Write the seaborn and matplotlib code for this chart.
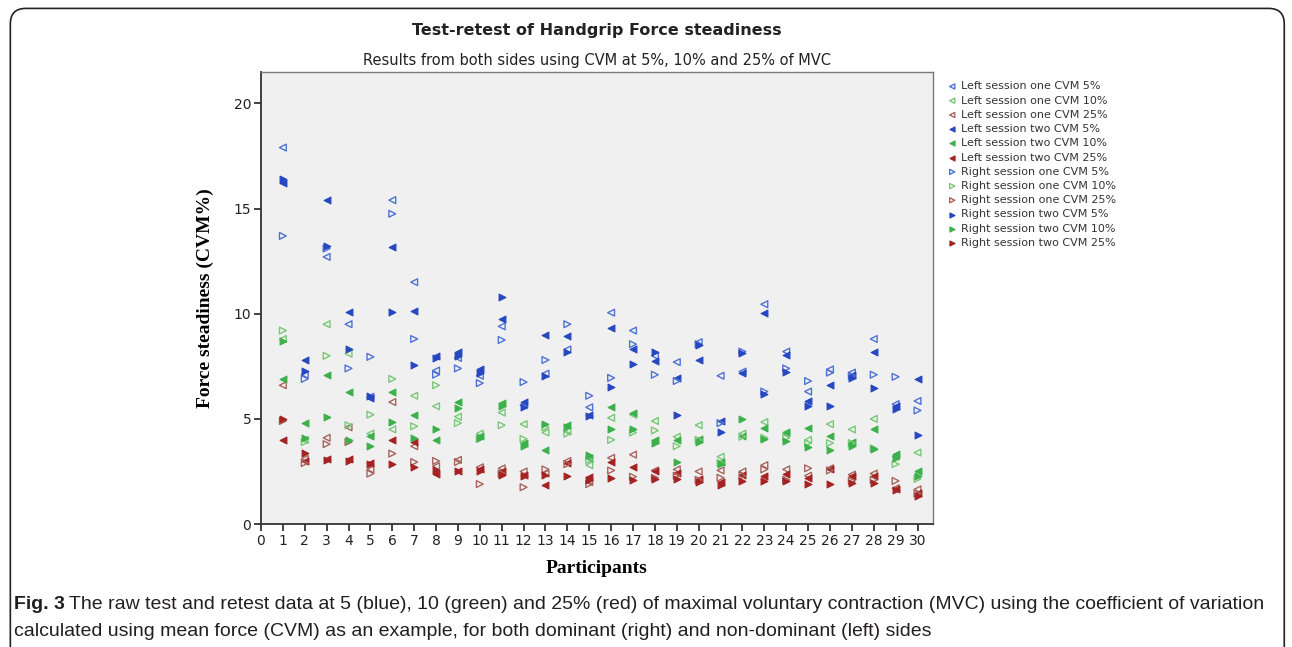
import numpy as np
import pandas as pd
import seaborn as sns
import matplotlib.pyplot as plt
from matplotlib.patches import FancyBboxPatch

# participants 1..30
participants = list(range(1, 31))

# CVM values (session one = open markers, session two = filled)
left_one_5 = [17.9, 7.1, 12.7, 9.5, 6.05, 15.4, 11.5, 7.3, 7.9, 7.05, 9.4, 5.65, 7.15, 8.3, 5.55,
              10.05, 9.2, 8.0, 7.7, 8.65, 7.05, 7.25, 10.45, 8.2, 6.3, 7.35, 7.2, 8.8, 5.7, 5.85]
left_one_10 = [8.8, 4.0, 9.5, 8.1, 4.3, 4.5, 6.1, 5.6, 5.1, 4.3, 5.3, 4.75, 4.35, 4.4, 2.8,
               5.05, 5.2, 4.9, 4.15, 4.7, 3.2, 4.3, 4.85, 4.3, 4.0, 4.75, 4.5, 5.0, 3.2, 3.4]
left_one_25 = [6.6, 3.1, 4.1, 4.6, 2.6, 5.8, 3.7, 2.75, 3.05, 2.7, 2.65, 2.5, 2.4, 3.0, 2.0,
               3.15, 3.3, 2.55, 2.6, 2.5, 2.55, 2.5, 2.8, 2.6, 2.3, 2.65, 2.35, 2.4, 1.7, 1.65]
left_two_5 = [16.2, 7.8, 15.4, 10.1, 6.0, 13.15, 10.15, 8.0, 8.2, 7.35, 9.75, 5.8, 9.0, 8.95, 5.2,
              9.3, 8.3, 7.75, 6.95, 7.8, 4.9, 7.2, 10.05, 8.05, 5.85, 6.6, 7.1, 8.2, 5.6, 6.9]
left_two_10 = [6.9, 4.8, 7.1, 6.3, 4.2, 6.3, 5.2, 4.0, 5.8, 4.2, 5.75, 3.85, 3.5, 4.7, 3.15,
               5.55, 5.3, 4.0, 4.0, 4.05, 2.95, 4.2, 4.55, 4.4, 4.55, 4.2, 3.9, 4.5, 3.35, 2.5]
left_two_25 = [4.0, 3.0, 3.1, 3.1, 2.9, 4.0, 3.9, 2.4, 2.5, 2.6, 2.5, 2.35, 1.85, 2.9, 2.25,
               2.95, 2.7, 2.5, 2.45, 2.15, 2.0, 2.35, 2.3, 2.4, 2.2, 2.6, 2.3, 2.3, 1.65, 1.5]
right_one_5 = [13.7, 6.9, 13.1, 7.4, 7.95, 14.75, 8.8, 7.1, 7.4, 6.7, 8.75, 6.75, 7.8, 9.5, 6.1,
               6.95, 8.55, 7.1, 6.8, 8.55, 4.8, 8.2, 6.3, 7.4, 6.8, 7.2, 7.05, 7.1, 7.0, 5.4]
right_one_10 = [9.2, 3.9, 8.0, 4.7, 5.2, 6.9, 4.65, 6.6, 4.8, 4.05, 4.7, 4.05, 4.6, 4.3, 3.05,
                4.0, 4.35, 4.45, 3.7, 4.0, 2.9, 4.15, 4.1, 4.1, 3.85, 3.85, 3.85, 3.6, 2.85, 2.15]
right_one_25 = [4.9, 2.9, 3.8, 3.9, 2.4, 3.35, 2.95, 3.0, 2.95, 1.9, 2.4, 1.75, 2.6, 2.85, 1.9,
                2.55, 2.25, 2.2, 2.3, 2.1, 2.2, 2.3, 2.6, 2.1, 2.65, 2.55, 2.05, 2.1, 2.05, 1.45]
right_two_5 = [16.4, 7.3, 13.2, 8.3, 6.1, 10.1, 7.55, 7.9, 8.0, 7.2, 10.8, 5.55, 7.05, 8.2, 5.15,
               6.5, 7.6, 8.2, 5.2, 8.5, 4.4, 8.15, 6.2, 7.25, 5.6, 5.6, 6.95, 6.45, 5.45, 4.25]
right_two_10 = [8.7, 4.1, 5.1, 4.0, 3.7, 4.85, 4.1, 4.5, 5.5, 4.1, 5.6, 3.7, 4.75, 4.6, 3.3,
                4.5, 4.5, 3.85, 2.95, 3.9, 2.85, 5.0, 4.05, 3.95, 3.65, 3.5, 3.7, 3.55, 3.15, 2.3]
right_two_25 = [5.0, 3.4, 3.05, 3.0, 2.85, 2.85, 2.7, 2.55, 2.5, 2.5, 2.35, 2.3, 2.35, 2.3, 2.1,
                2.2, 2.1, 2.15, 2.15, 2.0, 1.85, 2.05, 2.05, 2.05, 1.9, 1.9, 1.95, 1.95, 1.6, 1.35]

series_names = ['Left session one CVM 5%', 'Left session one CVM 10%', 'Left session one CVM 25%',
                'Left session two CVM 5%', 'Left session two CVM 10%', 'Left session two CVM 25%',
                'Right session one CVM 5%', 'Right session one CVM 10%', 'Right session one CVM 25%',
                'Right session two CVM 5%', 'Right session two CVM 10%', 'Right session two CVM 25%']
series_values = [left_one_5, left_one_10, left_one_25, left_two_5, left_two_10, left_two_25,
                 right_one_5, right_one_10, right_one_25, right_two_5, right_two_10, right_two_25]

# long table for seaborn
df = pd.DataFrame({
    'participant': np.tile(participants, len(series_names)),
    'value': np.concatenate(series_values),
    'series': np.repeat(series_names, len(participants)),
})

open_cols = {'5%': '#4f72d4', '10%': '#78c878', '25%': '#a8645e'}
fill_cols = {'5%': '#2747c0', '10%': '#3cb04a', '25%': '#a42222'}

fig = plt.figure(figsize=(12.92, 6.47), dpi=100)
ax = fig.add_axes([0.202, 0.190, 0.520, 0.699])
ax.set_facecolor('#f0f0f0')

for name in series_names:
    pct = name.split()[-1]
    marker = '<' if name.startswith('Left') else '>'
    sub = df[df['series'] == name]
    if 'one' in name:
        sns.scatterplot(data=sub, x='participant', y='value', ax=ax, marker=marker, s=24,
                        facecolors='none', edgecolor=open_cols[pct], linewidth=1.0,
                        label=name, legend=False)
    else:
        sns.scatterplot(data=sub, x='participant', y='value', ax=ax, marker=marker, s=24,
                        color=fill_cols[pct], edgecolor=fill_cols[pct], linewidth=0.8,
                        label=name, legend=False)

ax.set_xlim(0, 30.7)
ax.set_ylim(0, 21.5)
ax.set_xticks(range(0, 31))
ax.set_yticks([0, 5, 10, 15, 20])
ax.tick_params(axis='both', direction='out', length=5, width=1.2, labelsize=10,
               colors='#222222', pad=2)
for side in ['left', 'bottom']:
    ax.spines[side].set_color('#333333')
    ax.spines[side].set_linewidth(1.3)
for side in ['top', 'right']:
    ax.spines[side].set_color('#7a7a7a')
    ax.spines[side].set_linewidth(1.0)

ax.set_xlabel('Participants', family='Liberation Serif', fontweight='bold', fontsize=14, labelpad=9)
ax.set_ylabel('Force steadiness (CVM%)', family='Liberation Serif', fontweight='bold', fontsize=14, labelpad=14)

leg = ax.legend(loc='upper left', bbox_to_anchor=(0.731, 0.881), bbox_transform=fig.transFigure,
                frameon=False, fontsize=8.0, labelspacing=0.38, handlelength=0.6,
                handletextpad=0.5, borderaxespad=0, markerscale=0.75)
for t in leg.get_texts():
    t.set_color('#333333')

fig.text(0.462, 0.953, 'Test-retest of Handgrip Force steadiness', ha='center', va='center',
         fontsize=11.5, fontweight='bold', color='#222222')
fig.text(0.462, 0.907, 'Results from both sides using CVM at 5%, 10% and 25% of MVC', ha='center',
         va='center', fontsize=10.5, color='#222222')

# caption
cap_font = 'Liberation Sans'
cap_size = 14.0
fig.canvas.draw()
bold = fig.text(0.011, 0.066, 'Fig. 3', family=cap_font, fontweight='bold', fontsize=cap_size,
                va='center', color='#231f20')
bb = bold.get_window_extent(fig.canvas.get_renderer())
fig.text((bb.x1 + 4) / fig.bbox.width, 0.066,
         'The raw test and retest data at 5 (blue), 10 (green) and 25% (red) of maximal voluntary '
         'contraction (MVC) using the coefficient of variation',
         family=cap_font, fontsize=cap_size, va='center', color='#231f20')
fig.text(0.011, 0.024, 'calculated using mean force (CVM) as an example, for both dominant (right) '
         'and non-dominant (left) sides', family=cap_font, fontsize=cap_size, va='center', color='#231f20')

# rounded outer frame of the figure panel
frame = FancyBboxPatch((0.008, -0.06), 0.986, 1.047, boxstyle='round,pad=0,rounding_size=0.012',
                       transform=fig.transFigure, fill=False, edgecolor='#222222', linewidth=1.2,
                       clip_on=False, mutation_aspect=2.0)
fig.patches.append(frame)

fig.savefig('out.png', dpi=100)
